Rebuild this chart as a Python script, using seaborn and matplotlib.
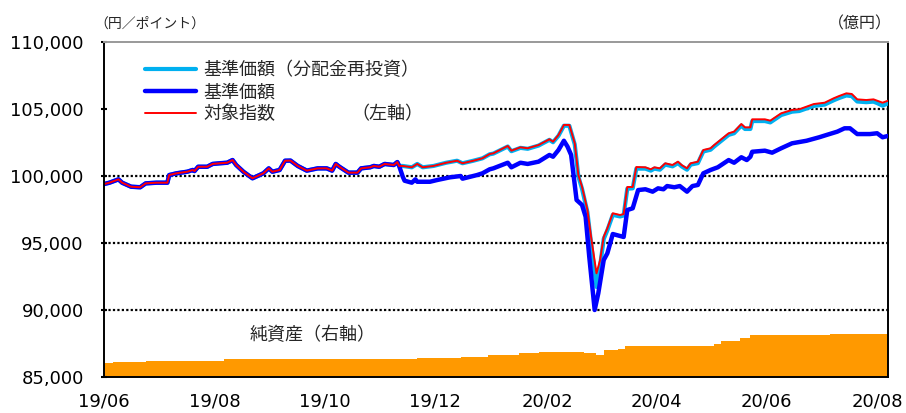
import matplotlib
matplotlib.use('Agg')
import matplotlib.pyplot as plt
import matplotlib.dates as mdates
from matplotlib.lines import Line2D
from matplotlib.ticker import FuncFormatter
import pandas as pd
import seaborn as sns

# series values; days counted from 2019-06-01
start = pd.Timestamp('2019-06-01')

idx_day = [0, 3, 8, 10, 15, 20, 23, 29, 35, 36, 40, 46, 49, 50, 52, 57, 60, 64, 68, 71,
           73, 77, 82, 88, 91, 93, 97, 100, 103, 107, 112, 118, 123, 126, 128, 130, 135, 140, 142, 147,
           149, 152, 155, 160, 162, 163,
           165, 170, 173, 176, 182, 189, 195, 198, 204, 209, 213, 215, 223, 225, 230, 234, 240, 246, 248, 251,
           254, 257, 260, 262, 264, 267, 269, 272, 274, 276, 278, 281, 285, 287, 289, 292, 294, 299, 302, 304,
           307, 310, 314, 317, 319, 322, 324, 328, 331, 335, 337, 345, 348, 352, 354, 357, 358, 365, 368, 374,
           380, 384, 392, 398, 403, 406, 410, 413, 416, 421, 425, 427, 430, 433]

# 対象指数
idx_val = [99400, 99500, 99750, 99500, 99200, 99160, 99450, 99500, 99500, 100070,
           100200, 100320, 100450, 100370, 100690, 100690, 100900, 100950, 100990, 101190,
           100820, 100320, 99830, 100200, 100570, 100320, 100450, 101140, 101150, 100750,
           100400, 100570, 100570, 100400, 100900, 100690, 100250, 100250, 100570, 100650,
           100750, 100690, 100900, 100820, 101040, 100750,
           100750, 100650, 100900, 100650, 100750, 100990, 101140, 100950, 101140, 101320,
           101640, 101690, 102240, 101890, 102140, 102070, 102310, 102740, 102560, 103060,
           103810, 103810, 102440, 100070, 99200, 97460, 95470, 92740, 93730, 95470,
           96100, 97220, 97090, 97160, 99180, 99180, 100670, 100650, 100500, 100650,
           100570, 100950, 100820, 101070, 100820, 100570, 100950, 101070, 101940, 102070,
           102310, 103190, 103310, 103880, 103630, 103630, 104230, 104230, 104130, 104680,
           104930, 104980, 105370, 105470, 105800, 105970, 106170, 106120, 105720, 105670,
           105720, 105620, 105470, 105620]

# 基準価額（分配金再投資）, same dates as the index
reinv_val = [99400, 99500, 99750, 99500, 99200, 99160, 99450, 99500, 99500, 100070,
             100200, 100320, 100450, 100370, 100690, 100690, 100900, 100950, 100990, 101190,
             100820, 100320, 99830, 100200, 100570, 100320, 100450, 101140, 101150, 100750,
             100400, 100570, 100570, 100400, 100900, 100690, 100250, 100250, 100570, 100650,
             100750, 100690, 100900, 100820, 101040, 100750,
             100750, 100650, 100900, 100650, 100750, 100990, 101140, 100950, 101140, 101320,
             101620, 101670, 102200, 101850, 102100, 102030, 102270, 102700, 102520, 103000,
             103750, 103750, 102350, 99950, 99050, 97300, 95000, 91720, 93300, 95300,
             95950, 97100, 96980, 97050, 99050, 99080, 100550, 100550, 100400, 100550,
             100470, 100850, 100720, 100960, 100720, 100470, 100850, 100960, 101830, 101960,
             102200, 103070, 103190, 103760, 103510, 103510, 104100, 104100, 104000, 104550,
             104800, 104850, 105230, 105330, 105650, 105820, 106010, 105960, 105560, 105510,
             105550, 105440, 105250, 105420]

# 基準価額
nav_day = [0, 3, 8, 10, 15, 20, 23, 29, 35, 36, 40, 46, 49, 50, 52, 57, 60, 64, 68, 71,
           73, 77, 82, 88, 91, 93, 97, 100, 103, 107, 112, 118, 123, 126, 128, 130, 135, 140, 142, 147,
           149, 152, 155, 160, 162, 163,
           165, 166, 170, 172, 173, 180, 184, 191, 197, 198, 206, 209, 213, 215, 223, 225, 230, 234, 240, 246,
           248, 251, 254, 256, 258, 261, 264, 266, 268, 271, 273, 276, 278, 281, 287, 289, 292, 295, 299, 303,
           306, 309, 311, 315, 318, 322, 325, 328, 331, 335, 339, 345, 348, 352, 355, 357, 358, 365, 369, 374,
           380, 388, 395, 399, 405, 409, 412, 416, 423, 427, 430, 433]
nav_val = [99400, 99500, 99750, 99500, 99200, 99160, 99450, 99500, 99500, 100070,
           100200, 100320, 100450, 100370, 100690, 100690, 100900, 100950, 100990, 101190,
           100820, 100320, 99830, 100200, 100570, 100320, 100450, 101140, 101150, 100750,
           100400, 100570, 100570, 100400, 100900, 100690, 100250, 100250, 100570, 100650,
           100750, 100690, 100900, 100820, 101040, 100750,
           99950, 99650, 99500, 99750, 99570, 99570, 99700, 99900, 100000, 99800,
           100070, 100200, 100500, 100570, 100990, 100650, 100990, 100900, 101070, 101570,
           101440, 101940, 102630, 102190, 101570, 98210, 97840, 96960, 93980, 90000,
           91250, 93730, 94230, 95670, 95450, 97460, 97590, 98950, 99010, 98830,
           99080, 99010, 99250, 99160, 99250, 98830, 99250, 99330, 100200, 100450,
           100650, 101190, 100990, 101400, 101190, 101440, 101810, 101890, 101740, 102070,
           102440, 102630, 102890, 103060, 103310, 103560, 103560, 103130, 103130, 103190,
           102890, 102990]

# 純資産 (億円, right axis)
na_day = [0, 5, 23, 66, 173, 197, 212, 229, 240, 256, 265, 272, 276, 284, 288, 337, 341, 351, 357, 401, 433]
na_val = [41, 45, 49, 53, 57, 61, 66, 71, 75, 76, 71, 67, 81, 84, 93, 98, 108, 115, 125, 128, 128]

legend_labels = ['基準価額（分配金再投資）', '基準価額', '対象指数']
y_ticks = [85000, 90000, 95000, 100000, 105000, 110000]

c_reinv = '#00B0F0'
c_nav = '#0000FF'
c_idx = '#FF0000'
c_area = '#FF9900'

sns.set_style('white')
plt.rcParams['font.family'] = ['DejaVu Sans', 'Noto Sans CJK JP']
jp = ['Noto Sans CJK JP', 'DejaVu Sans']


def to_dates(days):
    return start + pd.to_timedelta(days, unit='D')


fig = plt.figure(figsize=(9.06, 4.13), dpi=100)
ax = fig.add_axes([104 / 906, 1 - 377 / 413, 784 / 906, 335 / 413])
ax2 = ax.twinx()
ax.set_zorder(ax2.get_zorder() + 1)
ax.patch.set_visible(False)

# net assets area
na_dates = to_dates(na_day)
ax2.fill_between(na_dates, 0, na_val, step='post', color=c_area, linewidth=0)
ax2.set_ylim(0, 1000)
ax2.set_yticks([])

# price lines
sns.lineplot(x=to_dates(idx_day), y=reinv_val, ax=ax, color=c_reinv, linewidth=3.0, legend=False)
sns.lineplot(x=to_dates(nav_day), y=nav_val, ax=ax, color=c_nav, linewidth=3.2, legend=False)
sns.lineplot(x=to_dates(idx_day), y=idx_val, ax=ax, color=c_idx, linewidth=1.4, legend=False)

for v in y_ticks[1:-1]:
    xmin = 0.454 if v == 105000 else 0
    ax.axhline(v, xmin=xmin, color='black', linestyle=(0, (1, 1)), linewidth=1.6, zorder=1)

ax.set_ylim(85000, 110000)
ax.set_xlim(start, start + pd.Timedelta(days=433))
ax.set_yticks(y_ticks)
ax.yaxis.set_major_formatter(FuncFormatter(lambda v, p: f'{int(v):,}'))
ax.set_xticks(pd.date_range('2019-06-01', '2020-08-01', freq='2MS'))
ax.xaxis.set_major_formatter(mdates.DateFormatter('%y/%m'))
ax.set_xlabel('')
ax.set_ylabel('')
ax.tick_params(axis='x', direction='in', length=7, width=1, labelsize=13, pad=11, colors='black')
ax.tick_params(axis='y', direction='inout', length=5, width=1.5, labelsize=13, pad=12, colors='black')

for side in ['left', 'bottom']:
    ax.spines[side].set_color('black')
    ax.spines[side].set_linewidth(1.4)
ax.spines['right'].set_visible(False)
ax.spines['top'].set_color('#999999')
ax.spines['top'].set_linestyle((0, (2, 1)))
ax.spines['top'].set_linewidth(1.4)
for side in ['left', 'bottom', 'top']:
    ax2.spines[side].set_visible(False)
ax2.spines['right'].set_color('black')
ax2.spines['right'].set_linewidth(1.4)

handles = [Line2D([], [], color=c_reinv, linewidth=3.0),
           Line2D([], [], color=c_nav, linewidth=3.2),
           Line2D([], [], color=c_idx, linewidth=1.4)]
ax.legend(handles, legend_labels, loc='center left', bbox_to_anchor=(0.0523, 0.849),
          frameon=False, borderpad=0, borderaxespad=0, handlelength=2.85, handletextpad=0.4,
          labelspacing=0.22, prop={'family': jp, 'size': 13})

ax.text(0.362, 0.783, '（左軸）', transform=ax.transAxes, ha='center', va='center',
        fontsize=13, family=jp)
ax.text(0.186, 0.125, '純資産（右軸）', transform=ax.transAxes, ha='left', va='center',
        fontsize=13, family=jp)
fig.text(150 / 906, 1 - 24 / 413, '（円／ポイント）', ha='center', va='center', fontsize=10, family=jp)
fig.text(860 / 906, 1 - 24 / 413, '（億円）', ha='center', va='center', fontsize=11.5, family=jp)

fig.savefig('out.png', dpi=100, facecolor='white')
